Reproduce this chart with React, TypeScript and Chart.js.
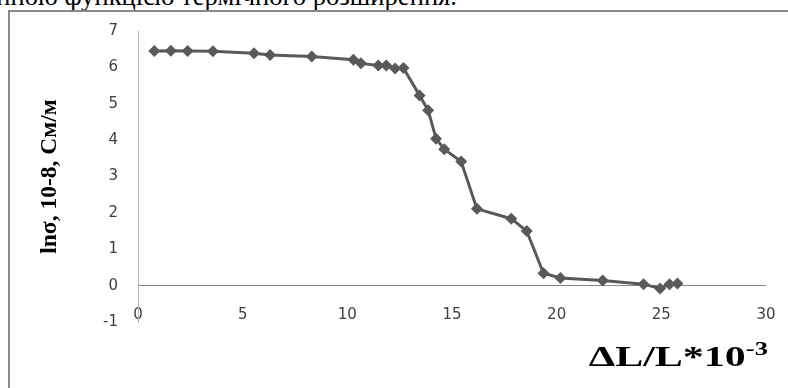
import React, { useEffect, useRef } from "react";
import { Chart, registerables } from "chart.js";

Chart.register(...registerables);

// ---- data ----
const xValues = [0.78, 1.57, 2.37, 3.58, 5.54, 6.31, 8.3, 10.29, 10.65, 11.48, 11.86, 12.28, 12.68, 13.45, 13.86, 14.24, 14.63, 15.44, 16.19, 17.83, 18.57, 19.37, 20.18, 22.2, 24.15, 24.94, 25.39, 25.77];
const yValues = [6.45, 6.46, 6.45, 6.44, 6.39, 6.34, 6.3, 6.21, 6.11, 6.05, 6.05, 5.97, 5.98, 5.23, 4.82, 4.04, 3.75, 3.41, 2.11, 1.84, 1.5, 0.34, 0.21, 0.14, 0.04, -0.08, 0.04, 0.06];
const xTicks = [0, 5, 10, 15, 20, 25, 30];
const yTicks = [-1, 0, 1, 2, 3, 4, 5, 6, 7];
const seriesName = "lnσ";
const yTitle = "lnσ, 10-8, См/м";
const xTitleMain = "ΔL/L*10";
const xTitleSup = "-3";
const topText = "нною функцією термічного розширення.";

export default function App() {
  const ref = useRef<HTMLCanvasElement>(null);

  useEffect(() => {
    const canvas = ref.current;
    if (!canvas) return;
    const tickFont = { family: "'DejaVu Sans', sans-serif", size: 15 };
    const chart = new Chart(canvas, {
      type: "line",
      data: {
        datasets: [
          {
            label: seriesName,
            data: xValues.map((x, i) => ({ x, y: yValues[i] })),
            borderColor: "#595959",
            backgroundColor: "#595959",
            borderWidth: 3,
            pointStyle: "rectRot",
            pointRadius: 6,
            pointBorderWidth: 0,
            pointBackgroundColor: "#595959",
            tension: 0,
            fill: false,
          },
        ],
      },
      options: {
        animation: false,
        responsive: false,
        layout: { padding: { left: 0, top: 31, right: 22, bottom: 46 } },
        plugins: { legend: { display: false }, tooltip: { enabled: false } },
        scales: {
          x: {
            type: "linear",
            min: 0,
            max: 30,
            afterBuildTicks: (s: any) => {
              s.ticks = xTicks.map((v) => ({ value: v }));
            },
            grid: { display: false, drawTicks: false },
            border: { display: false },
            ticks: { mirror: true, padding: -2, font: tickFont, color: "#404040", autoSkip: false },
            afterFit: (s: any) => {
              s.height = 20;
            },
          },
          y: {
            type: "linear",
            min: -1,
            max: 7,
            afterBuildTicks: (s: any) => {
              s.ticks = yTicks.map((v) => ({ value: v }));
            },
            grid: {
              drawTicks: false,
              lineWidth: 1,
              color: (ctx: any) =>
                ctx.tick && ctx.tick.value === 0 ? "#868686" : "rgba(0,0,0,0)",
            },
            border: { display: true, color: "#b5b5b5", width: 1 },
            ticks: { padding: 20, font: tickFont, color: "#404040", autoSkip: false },
            title: {
              display: true,
              text: yTitle,
              color: "#000",
              font: { family: "'Liberation Serif', serif", size: 23.5, weight: "bold" },
              padding: { top: 36, bottom: 0 },
            },
            afterFit: (s: any) => {
              s.width = 138;
            },
          },
        },
      },
    } as any);
    return () => chart.destroy();
  }, []);

  return (
    <div
      style={{
        position: "fixed",
        left: 0,
        top: 0,
        width: 788,
        height: 388,
        overflow: "hidden",
        background: "#fff",
      }}
    >
      <div
        style={{
          position: "absolute",
          right: 331,
          top: -17,
          whiteSpace: "nowrap",
          fontFamily: "'Liberation Serif', serif",
          fontSize: 26.6,
          lineHeight: "26px",
          color: "#000",
        }}
      >
        {topText}
      </div>
      <div
        style={{
          position: "absolute",
          left: 8,
          top: 10,
          width: 800,
          height: 400,
          border: "2px solid #8a8a8a",
        }}
      />
      <canvas
        ref={ref}
        width={788}
        height={388}
        style={{ position: "absolute", left: 0, top: 0, width: 788, height: 388 }}
      />
      <div
        style={{
          position: "absolute",
          right: 20,
          top: 341,
          whiteSpace: "nowrap",
          fontFamily: "'Liberation Serif', serif",
          fontWeight: "bold",
          fontSize: 30,
          lineHeight: "30px",
          color: "#000",
          transform: "scaleX(1.4)",
          transformOrigin: "right center",
        }}
      >
        {xTitleMain}
        <span style={{ fontSize: 19, position: "relative", top: -11 }}>{xTitleSup}</span>
      </div>
    </div>
  );
}
